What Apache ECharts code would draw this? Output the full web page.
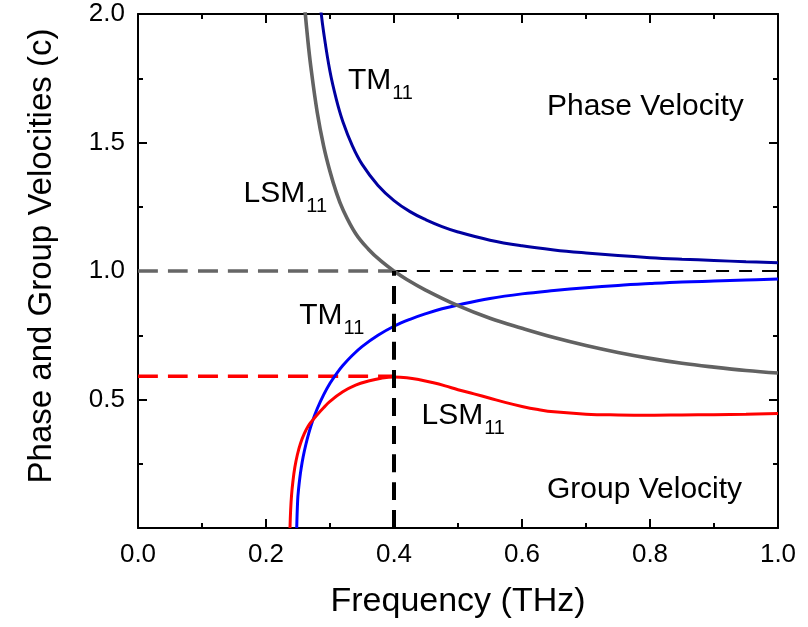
<!DOCTYPE html>
<html>
<head>
<meta charset="utf-8">
<script src="https://cdn.jsdelivr.net/npm/echarts@6/dist/echarts.min.js"></script>
<style>
html,body{margin:0;padding:0;background:#fff;}
#chart{width:808px;height:627px;}
</style>
</head>
<body>
<div id="chart"></div>
<script>
// ---- data ----
// Frequency (THz) vs velocity (units of c)
const tmPhase = [[0.280,2.16],[0.285,2.03],[0.29,1.93],[0.30,1.776],[0.31,1.667],[0.32,1.582],[0.335,1.487],[0.35,1.416],[0.375,1.333],[0.40,1.274],[0.425,1.231],[0.45,1.199],[0.475,1.173],[0.50,1.152],[0.55,1.12],[0.60,1.098],[0.65,1.082],[0.70,1.07],[0.75,1.06],[0.80,1.052],[0.85,1.046],[0.90,1.041],[0.95,1.036],[1.00,1.032]];
const tmGroup = [[0.248,0],[0.2495,0.109],[0.251,0.154],[0.253,0.198],[0.255,0.233],[0.258,0.276],[0.262,0.322],[0.267,0.37],[0.273,0.418],[0.28,0.464],[0.29,0.518],[0.30,0.563],[0.31,0.6],[0.32,0.632],[0.335,0.672],[0.35,0.706],[0.375,0.75],[0.40,0.785],[0.425,0.812],[0.45,0.834],[0.475,0.853],[0.50,0.868],[0.55,0.893],[0.60,0.911],[0.65,0.924],[0.70,0.935],[0.75,0.944],[0.80,0.951],[0.85,0.957],[0.90,0.961],[0.95,0.965],[1.00,0.969]];
const lsmPhase = [[0.2585,2.1],[0.26,2.04],[0.265,1.907],[0.27,1.796],[0.28,1.618],[0.29,1.487],[0.30,1.387],[0.31,1.305],[0.32,1.24],[0.34,1.146],[0.36,1.085],[0.38,1.038],[0.40,1.0],[0.42,0.967],[0.45,0.925],[0.50,0.865],[0.55,0.816],[0.60,0.777],[0.65,0.741],[0.70,0.71],[0.75,0.683],[0.80,0.66],[0.85,0.641],[0.90,0.626],[0.95,0.613],[1.00,0.603]];
const lsmGroup = [[0.2375,0],[0.2385,0.07],[0.24,0.13],[0.242,0.18],[0.245,0.235],[0.249,0.285],[0.254,0.33],[0.26,0.368],[0.266,0.397],[0.273,0.42],[0.28,0.441],[0.29,0.468],[0.30,0.493],[0.32,0.53],[0.34,0.556],[0.36,0.572],[0.38,0.583],[0.40,0.588],[0.42,0.585],[0.44,0.577],[0.46,0.566],[0.48,0.553],[0.50,0.538],[0.525,0.522],[0.55,0.505],[0.575,0.488],[0.60,0.473],[0.625,0.461],[0.65,0.452],[0.70,0.443],[0.75,0.44],[0.80,0.439],[0.85,0.44],[0.90,0.441],[0.95,0.443],[1.00,0.446]];
// reference lines
const crossFreq = 0.4;      // THz where LSM11 phase velocity = c
const maxGroupLSM = 0.59;   // peak LSM11 group velocity
const lightLine = 1.0;
// tick labels
const xTicks = ['0.0','0.2','0.4','0.6','0.8','1.0'];
const yTicks = ['', '0.5', '1.0', '1.5', '2.0'];
// annotation texts
const labelTexts = {tmUp:['TM','11'], phase:['Phase Velocity',''], lsmUp:['LSM','11'], tmLow:['TM','11'], lsmLow:['LSM','11'], group:['Group Velocity','']};

const FONT = "'Liberation Sans', Arial, Helvetica, sans-serif";
const chart = echarts.init(document.getElementById('chart'), null, {renderer:'canvas'});

const baseAxis = {
  axisLine:{show:true, onZero:false, lineStyle:{color:'#000', width:2}},
  axisTick:{show:true, inside:true, length:9, lineStyle:{color:'#000', width:2}},
  minorTick:{show:true, splitNumber:2, length:5, lineStyle:{color:'#000', width:2}},
  splitLine:{show:false}, minorSplitLine:{show:false}
};

function lineSeries(data, color, width, z, dash){
  return {type:'line', data:data, showSymbol:false, symbol:'none', smooth:0.4, clip:true, z:z,
    lineStyle:{color:color, width:width, type: dash || 'solid', cap:'butt'}, animation:false, silent:true};
}

const option = {
  animation:false,
  backgroundColor:'#fff',
  grid:{left:138, right:30, top:14, bottom:99, containLabel:false},
  xAxis:[
    Object.assign({}, baseAxis, {type:'value', position:'bottom', min:0, max:1, interval:0.2,
      name:'Frequency (THz)', nameLocation:'middle', nameGap:57,
      nameTextStyle:{fontSize:34, color:'#000', fontFamily:FONT},
      axisLabel:{fontSize:26, color:'#000', fontFamily:FONT, margin:14,
        formatter:(v)=> xTicks[Math.round(v/0.2)] }}),
    Object.assign({}, baseAxis, {type:'value', position:'top', min:0, max:1, interval:0.2,
      axisLabel:{show:false}})
  ],
  yAxis:[
    Object.assign({}, baseAxis, {type:'value', position:'left', min:0, max:2, interval:0.5,
      name:'Phase and Group Velocities (c)', nameLocation:'middle', nameGap:80,
      nameTextStyle:{fontSize:33, color:'#000', fontFamily:FONT, padding:[0,0,0,30]},
      axisLabel:{fontSize:26, color:'#000', fontFamily:FONT, margin:13,
        formatter:(v)=> yTicks[Math.round(v/0.5)] }}),
    Object.assign({}, baseAxis, {type:'value', position:'right', min:0, max:2, interval:0.5,
      axisLabel:{show:false}})
  ],
  series:[
    lineSeries([[0,lightLine],[crossFreq,lightLine]], '#666666', 3.5, 2, [20,10]),
    lineSeries([[crossFreq,lightLine],[1,lightLine]], '#000000', 2.2, 2, [13,10]),
    lineSeries([[0,maxGroupLSM],[crossFreq,maxGroupLSM]], '#ff0000', 3.5, 2, [20,10]),
    lineSeries(tmPhase, '#0000a0', 3, 4),
    lineSeries(tmGroup, '#0000ff', 3, 4),
    lineSeries(lsmGroup, '#ff0000', 3, 4),
    lineSeries(lsmPhase, '#626262', 3.6, 5),
    lineSeries([[crossFreq,0],[crossFreq,lightLine]], '#000000', 4, 6, [18,10])
  ]
};
chart.setOption(option);

// annotations anchored at data coordinates (left edge, vertical middle of capitals)
const anchors = [
  ['tmUp',   [0.328, 1.739]],
  ['phase',  [0.639, 1.640]],
  ['lsmUp',  [0.165, 1.300]],
  ['tmLow',  [0.252, 0.825]],
  ['lsmLow', [0.443, 0.436]],
  ['group',  [0.639, 0.150]]
];
const graphics = anchors.map(([key, pt]) => {
  const p = chart.convertToPixel({xAxisIndex:0, yAxisIndex:0}, pt);
  const t = labelTexts[key];
  const txt = t[1] ? '{m|' + t[0] + '}{s|' + t[1] + '}' : '{m|' + t[0] + '}';
  return {type:'text', x:p[0], y:p[1], z:50, silent:true,
    style:{text:txt, align:'left', verticalAlign:'middle', fill:'#000',
      rich:{
        m:{fontSize:30, fontFamily:FONT, fill:'#000'},
        s:{fontSize:20, fontFamily:FONT, fill:'#000', padding:[25,0,0,1]}
      }}};
});
chart.setOption({graphic:graphics});
</script>
</body>
</html>
